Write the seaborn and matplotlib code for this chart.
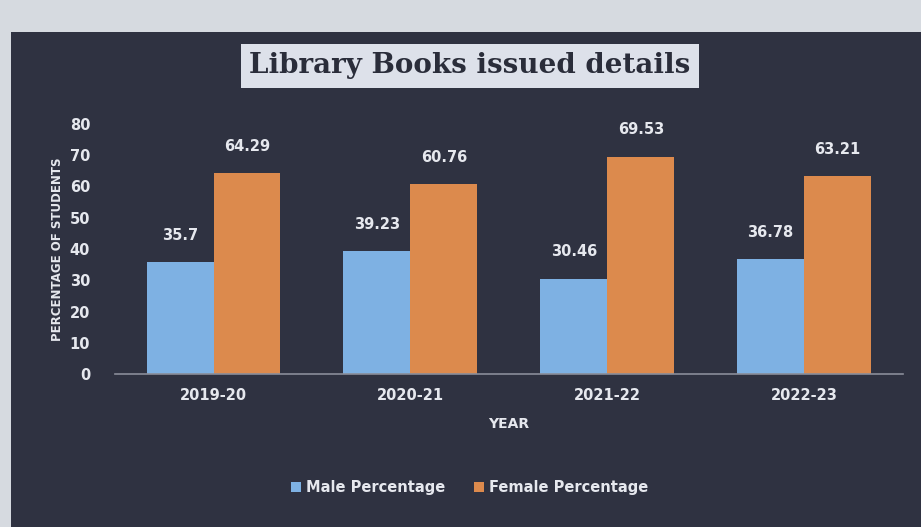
import matplotlib
matplotlib.use("Agg")
import matplotlib.pyplot as plt
from matplotlib.patches import Rectangle
import seaborn as sns
import pandas as pd

years = ["2019-20", "2020-21", "2021-22", "2022-23"]
male = [35.7, 39.23, 30.46, 36.78]
female = [64.29, 60.76, 69.53, 63.21]
male_labels = ["35.7", "39.23", "30.46", "36.78"]
female_labels = ["64.29", "60.76", "69.53", "63.21"]
series = ["Male Percentage", "Female Percentage"]
yticks = [0, 10, 20, 30, 40, 50, 60, 70, 80]

df = pd.DataFrame({
    "Year": years * 2,
    "Series": [series[0]] * 4 + [series[1]] * 4,
    "Value": male + female,
})

sns.set_theme(style="white")
plt.rcParams["font.family"] = ["DejaVu Sans"]

BG = "#2f3241"
TXT = "#e6e8ee"

fig = plt.figure(figsize=(9.21, 5.27), dpi=100)
fig.patch.set_facecolor("#d6dae0")
fig.add_artist(Rectangle((0.012, 0.0), 0.988, 0.94, transform=fig.transFigure,
                         facecolor=BG, edgecolor="none", zorder=0))

ax = fig.add_axes([0.125, 0.29, 0.855, 0.475])
ax.set_facecolor(BG)
ax.patch.set_alpha(0)

sns.barplot(data=df, x="Year", y="Value", hue="Series", order=years,
            hue_order=series, palette=["#7eb1e3", "#dc8a4d"],
            width=0.68, gap=0.0, saturation=1, ax=ax, legend=True,
            linewidth=0, edgecolor="none")

for cont, labs in zip(ax.containers, [male_labels, female_labels]):
    ax.bar_label(cont, labels=labs, padding=14, color=TXT, fontsize=10.5,
                 fontweight="bold")

ax.set_ylim(0, 80)
ax.set_yticks(yticks)
ax.set_yticklabels([str(t) for t in yticks], color=TXT, fontsize=10.5,
                   fontweight="bold")
ax.tick_params(axis="x", colors=TXT, labelsize=10.5, length=0, pad=10)
ax.tick_params(axis="y", length=0, pad=18)
for lab in ax.get_xticklabels():
    lab.set_fontweight("bold")
    lab.set_color(TXT)

ax.set_ylabel("PERCENTAGE OF STUDENTS", color=TXT, fontsize=8.5,
              fontweight="bold", labelpad=4)
ax.set_xlabel("YEAR", color=TXT, fontsize=10, fontweight="bold", labelpad=10)

for s in ["top", "right", "left"]:
    ax.spines[s].set_visible(False)
ax.spines["bottom"].set_color("#8a8d99")
ax.spines["bottom"].set_linewidth(1.2)
ax.grid(False)

leg = ax.legend(loc="upper center", bbox_to_anchor=(0.45, -0.37), ncol=2,
                frameon=False, handlelength=0.7, handleheight=0.7,
                handletextpad=0.3, columnspacing=2.0,
                prop={"weight": "bold", "size": 10.5})
for t in leg.get_texts():
    t.set_color(TXT)
for h in leg.legend_handles:
    h.set_edgecolor("none")
    h.set_linewidth(0)

fig.text(0.51, 0.875, "Library Books issued details", ha="center", va="center",
         fontsize=20, fontweight="bold", family="DejaVu Serif", color="#2a2d3a",
         bbox=dict(boxstyle="square,pad=0.3", facecolor="#dde1ea",
                   edgecolor="none"))

fig.savefig("out.png", dpi=100, facecolor=fig.get_facecolor())
